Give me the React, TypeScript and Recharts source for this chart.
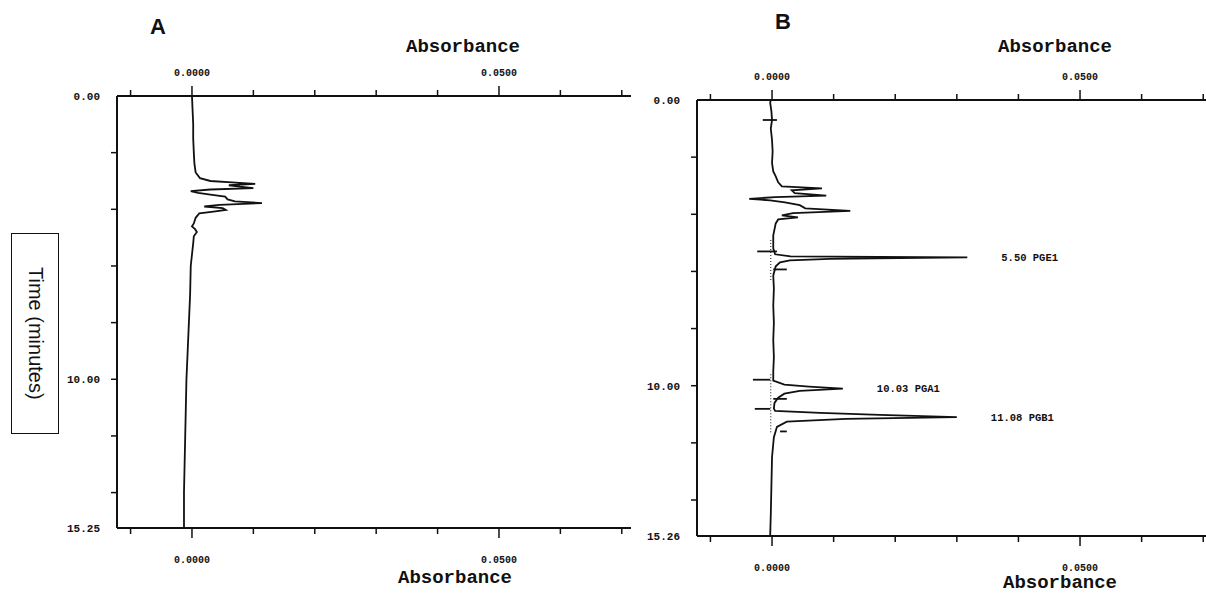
import {
  LineChart,
  Line,
  XAxis,
  YAxis,
  ReferenceLine,
  ReferenceDot,
} from "recharts";

// Panel A: time (min) vs absorbance
const TIME_A = [
  0, 0.5, 1.0, 1.5, 2.0, 2.4, 2.7, 2.9, 3.0, 3.05, 3.1, 3.15, 3.2, 3.25, 3.3, 3.36, 3.42, 3.48,
  3.55, 3.65, 3.72, 3.78, 3.84, 3.9, 3.96, 4.02, 4.08, 4.14, 4.3, 4.5, 4.6, 4.7, 4.8, 4.95, 5.2,
  5.6, 6.0, 7.0, 8.0, 9.0, 10.0, 11.0, 12.0, 13.0, 14.0, 15.25,
];
const ABS_A = [
  0.0, 0.0001, 0.0002, 0.0002, 0.0003, 0.0004, 0.0006, 0.0013, 0.003, 0.0065, 0.0103, 0.006,
  0.0078, 0.01, 0.003, -0.0002, 0.001, 0.003, 0.0054, 0.0058, 0.007, 0.0114, 0.0045, 0.002, 0.005,
  0.0055, 0.0035, 0.0012, 0.0006, 0.0003, 0.0, 0.0005, 0.0008, 0.0003, 0.0002, 0.0, -0.0002,
  -0.0003, -0.0005, -0.0007, -0.0009, -0.001, -0.0011, -0.0012, -0.0013, -0.0013,
];

// Panel B: time (min) vs absorbance
const TIME_B = [
  0, 0.1, 0.4, 0.7, 1.0, 1.4, 1.8, 2.2, 2.5, 2.67, 2.88, 3.02, 3.09, 3.16, 3.26, 3.35, 3.4, 3.46,
  3.51, 3.58, 3.68, 3.79, 3.88, 3.96, 4.04, 4.11, 4.18, 4.32, 4.74, 5.19, 5.4, 5.47, 5.51, 5.56,
  5.61, 5.68, 5.82, 6.14, 6.6, 7.2, 7.8, 8.4, 9.0, 9.5, 9.82, 9.96, 10.03, 10.1, 10.18, 10.28,
  10.42, 10.6, 10.8, 10.88, 10.95, 11.02, 11.1, 11.16, 11.26, 11.44, 11.8, 12.5, 13.5, 14.5, 15.26,
];
const ABS_B = [
  -0.0002, -0.0003, -0.0001, 0.0, -0.0002, 0.0, 0.0001, 0.0, 0.0002, 0.0006, 0.001, 0.0016, 0.0081,
  0.0032, 0.0037, 0.0088, 0.0005, -0.0037, -0.0003, 0.0021, 0.0045, 0.0054, 0.0127, 0.0034, 0.0016,
  0.0042, 0.001, 0.0006, 0.0002, 0.0002, 0.0005, 0.003, 0.0317, 0.0094, 0.0029, 0.0013, 0.0006,
  0.0002, 0.0003, 0.0002, 0.0003, 0.0002, 0.0003, 0.0002, 0.0002, 0.002, 0.006, 0.0115, 0.0045,
  0.002, 0.001, 0.0004, 0.0003, 0.0005, 0.0078, 0.0175, 0.03, 0.012, 0.0024, 0.0008, 0.0003, 0.0,
  -0.0001, -0.0002, -0.0003,
];

// integration event marks in B (time, from, to)
const MARK_T = [0.7, 5.3, 5.93, 9.79, 10.46, 10.81, 11.6];
const MARK_FROM = [-0.0015, -0.0024, 0.0002, -0.0031, 0.0002, -0.0028, 0.0013];
const MARK_TO = [0.0008, 0.0008, 0.0024, -0.0003, 0.0024, -0.0003, 0.0024];

// dotted baseline under the peaks in B
const BASE_FROM = [4.9, 9.6];
const BASE_TO = [6.3, 11.7];
const BASE_ABS = -0.0002;

const PEAK_T = [5.51, 10.1, 11.1];
const PEAK_ABS = [0.0317, 0.0115, 0.03];
const PEAK_LABELS = ["5.50 PGE1", "10.03 PGA1", "11.08 PGB1"];

const X_TICKS = [-0.01, 0, 0.01, 0.02, 0.03, 0.04, 0.05, 0.06, 0.07];
const X_LABELED = [0, 0.05];
const X_LABELS = ["0.0000", "0.0500"];

const Y_TICKS_A = [0, 2, 4, 6, 8, 10, 12, 14, 15.25];
const Y_TICKS_B = [0, 2, 4, 6, 8, 10, 12, 14, 15.26];
const Y_LABELED = [0, 10];

const INK = "#111";
const MONO = "'Liberation Mono', 'DejaVu Sans Mono', monospace";
const SANS = "'Liberation Sans', Arial, sans-serif";

const near = (a: number, b: number) => Math.abs(a - b) < 1e-9;

function xTick(orient: "top" | "bottom") {
  return (props: any) => {
    const { x, y, payload } = props;
    const v = payload.value as number;
    const idx = X_LABELED.findIndex((l) => near(l, v));
    const len = idx >= 0 ? 10 : 6;
    const dir = orient === "top" ? -1 : 1;
    return (
      <g>
        <line x1={x} x2={x} y1={y} y2={y + dir * len} stroke={INK} strokeWidth={1.5} />
        {idx >= 0 && (
          <text
            x={x}
            y={orient === "top" ? y - 20 : y + 35}
            textAnchor="middle"
            fontFamily={MONO}
            fontWeight={700}
            fontSize={10}
            fill={INK}
          >
            {X_LABELS[idx]}
          </text>
        )}
      </g>
    );
  };
}

function yTick(last: number) {
  return (props: any) => {
    const { x, y, payload } = props;
    const v = payload.value as number;
    const labeled = Y_LABELED.some((l) => near(l, v)) || near(v, last);
    const mark = v > 0 && v < last;
    return (
      <g>
        {mark && <line x1={x} x2={x - 6} y1={y} y2={y} stroke={INK} strokeWidth={1.5} />}
        {labeled && (
          <text
            x={x - 17}
            y={y + 4}
            textAnchor="end"
            fontFamily={MONO}
            fontWeight={700}
            fontSize={11}
            fill={INK}
          >
            {v.toFixed(2)}
          </text>
        )}
      </g>
    );
  };
}

interface PanelProps {
  times: number[];
  values: number[];
  yTicks: number[];
  width: number;
  margin: { top: number; right: number; bottom: number; left: number };
  xDomain: [number, number];
  annotate?: boolean;
}

function Panel({ times, values, yTicks, width, margin, xDomain, annotate }: PanelProps) {
  const data = times.map((t, i) => ({ t, a: values[i] }));
  const last = yTicks[yTicks.length - 1];
  const axisLine = { stroke: INK, strokeWidth: 2 };
  return (
    <LineChart layout="vertical" width={width} height={593} data={data} margin={margin}>
      <XAxis
        xAxisId="top"
        orientation="top"
        type="number"
        domain={xDomain}
        allowDataOverflow
        ticks={X_TICKS}
        interval={0}
        height={20}
        tickSize={0}
        tickMargin={0}
        tickLine={false}
        axisLine={axisLine}
        tick={xTick("top")}
      />
      <XAxis
        xAxisId="bottom"
        orientation="bottom"
        type="number"
        domain={xDomain}
        allowDataOverflow
        ticks={X_TICKS}
        interval={0}
        height={20}
        tickSize={0}
        tickMargin={0}
        tickLine={false}
        axisLine={axisLine}
        tick={xTick("bottom")}
      />
      <YAxis
        type="number"
        dataKey="t"
        domain={[0, last]}
        ticks={yTicks}
        interval={0}
        width={60}
        tickSize={0}
        tickMargin={0}
        tickLine={false}
        axisLine={axisLine}
        tick={yTick(last)}
      />
      {annotate &&
        BASE_FROM.map((f, i) => (
          <ReferenceLine
            key={`b${i}`}
            xAxisId="top"
            segment={[
              { x: BASE_ABS, y: f },
              { x: BASE_ABS, y: BASE_TO[i] },
            ]}
            stroke={INK}
            strokeWidth={1}
            strokeDasharray="1 2"
          />
        ))}
      {annotate &&
        MARK_T.map((t, i) => (
          <ReferenceLine
            key={`m${i}`}
            xAxisId="top"
            segment={[
              { x: MARK_FROM[i], y: t },
              { x: MARK_TO[i], y: t },
            ]}
            stroke={INK}
            strokeWidth={1.8}
          />
        ))}
      <Line
        xAxisId="top"
        type="linear"
        dataKey="a"
        stroke={INK}
        strokeWidth={1.8}
        dot={false}
        isAnimationActive={false}
      />
      {annotate &&
        PEAK_T.map((t, i) => (
          <ReferenceDot
            key={`p${i}`}
            xAxisId="top"
            x={PEAK_ABS[i]}
            y={t}
            r={0}
            fill="none"
            stroke="none"
            label={{
              value: PEAK_LABELS[i],
              position: "right",
              offset: 34,
              fill: INK,
              fontSize: 10.5,
              fontWeight: 700,
              fontFamily: MONO,
            }}
          />
        ))}
    </LineChart>
  );
}

const abs = (left: number, top: number, extra: React.CSSProperties = {}): React.CSSProperties => ({
  position: "absolute",
  left,
  top,
  transform: "translate(-50%, -50%)",
  whiteSpace: "nowrap",
  color: INK,
  ...extra,
});

const titleStyle: React.CSSProperties = { fontFamily: MONO, fontWeight: 700, fontSize: 19 };
const letterStyle: React.CSSProperties = { fontFamily: SANS, fontWeight: 700, fontSize: 22 };

export default function App() {
  return (
    <div
      style={{
        position: "absolute",
        left: 0,
        top: 0,
        width: 1206,
        height: 593,
        background: "#fff",
        overflow: "hidden",
      }}
    >
      <div style={{ position: "absolute", left: 0, top: 0 }}>
        <Panel
          times={TIME_A}
          values={ABS_A}
          yTicks={Y_TICKS_A}
          width={660}
          margin={{ top: 76, right: 29, bottom: 45, left: 57 }}
          xDomain={[-0.01221, 0.0715]}
        />
      </div>
      <div style={{ position: "absolute", left: 620, top: 0 }}>
        <Panel
          times={TIME_B}
          values={ABS_B}
          yTicks={Y_TICKS_B}
          width={586}
          margin={{ top: 80, right: 0, bottom: 37, left: 17 }}
          xDomain={[-0.01218, 0.07045]}
          annotate
        />
      </div>

      <div style={abs(158, 27, letterStyle)}>A</div>
      <div style={abs(783, 22, letterStyle)}>B</div>
      <div style={abs(463, 47, titleStyle)}>Absorbance</div>
      <div style={abs(455, 578, titleStyle)}>Absorbance</div>
      <div style={abs(1055, 47, titleStyle)}>Absorbance</div>
      <div style={abs(1060, 583, titleStyle)}>Absorbance</div>

      <div
        style={{
          position: "absolute",
          left: 11,
          top: 233,
          width: 46,
          height: 199,
          border: `1.5px solid ${INK}`,
          display: "flex",
          alignItems: "center",
          justifyContent: "center",
        }}
      >
        <span
          style={{
            writingMode: "vertical-rl",
            fontFamily: SANS,
            fontSize: 20,
            color: INK,
          }}
        >
          Time (minutes)
        </span>
      </div>
    </div>
  );
}
